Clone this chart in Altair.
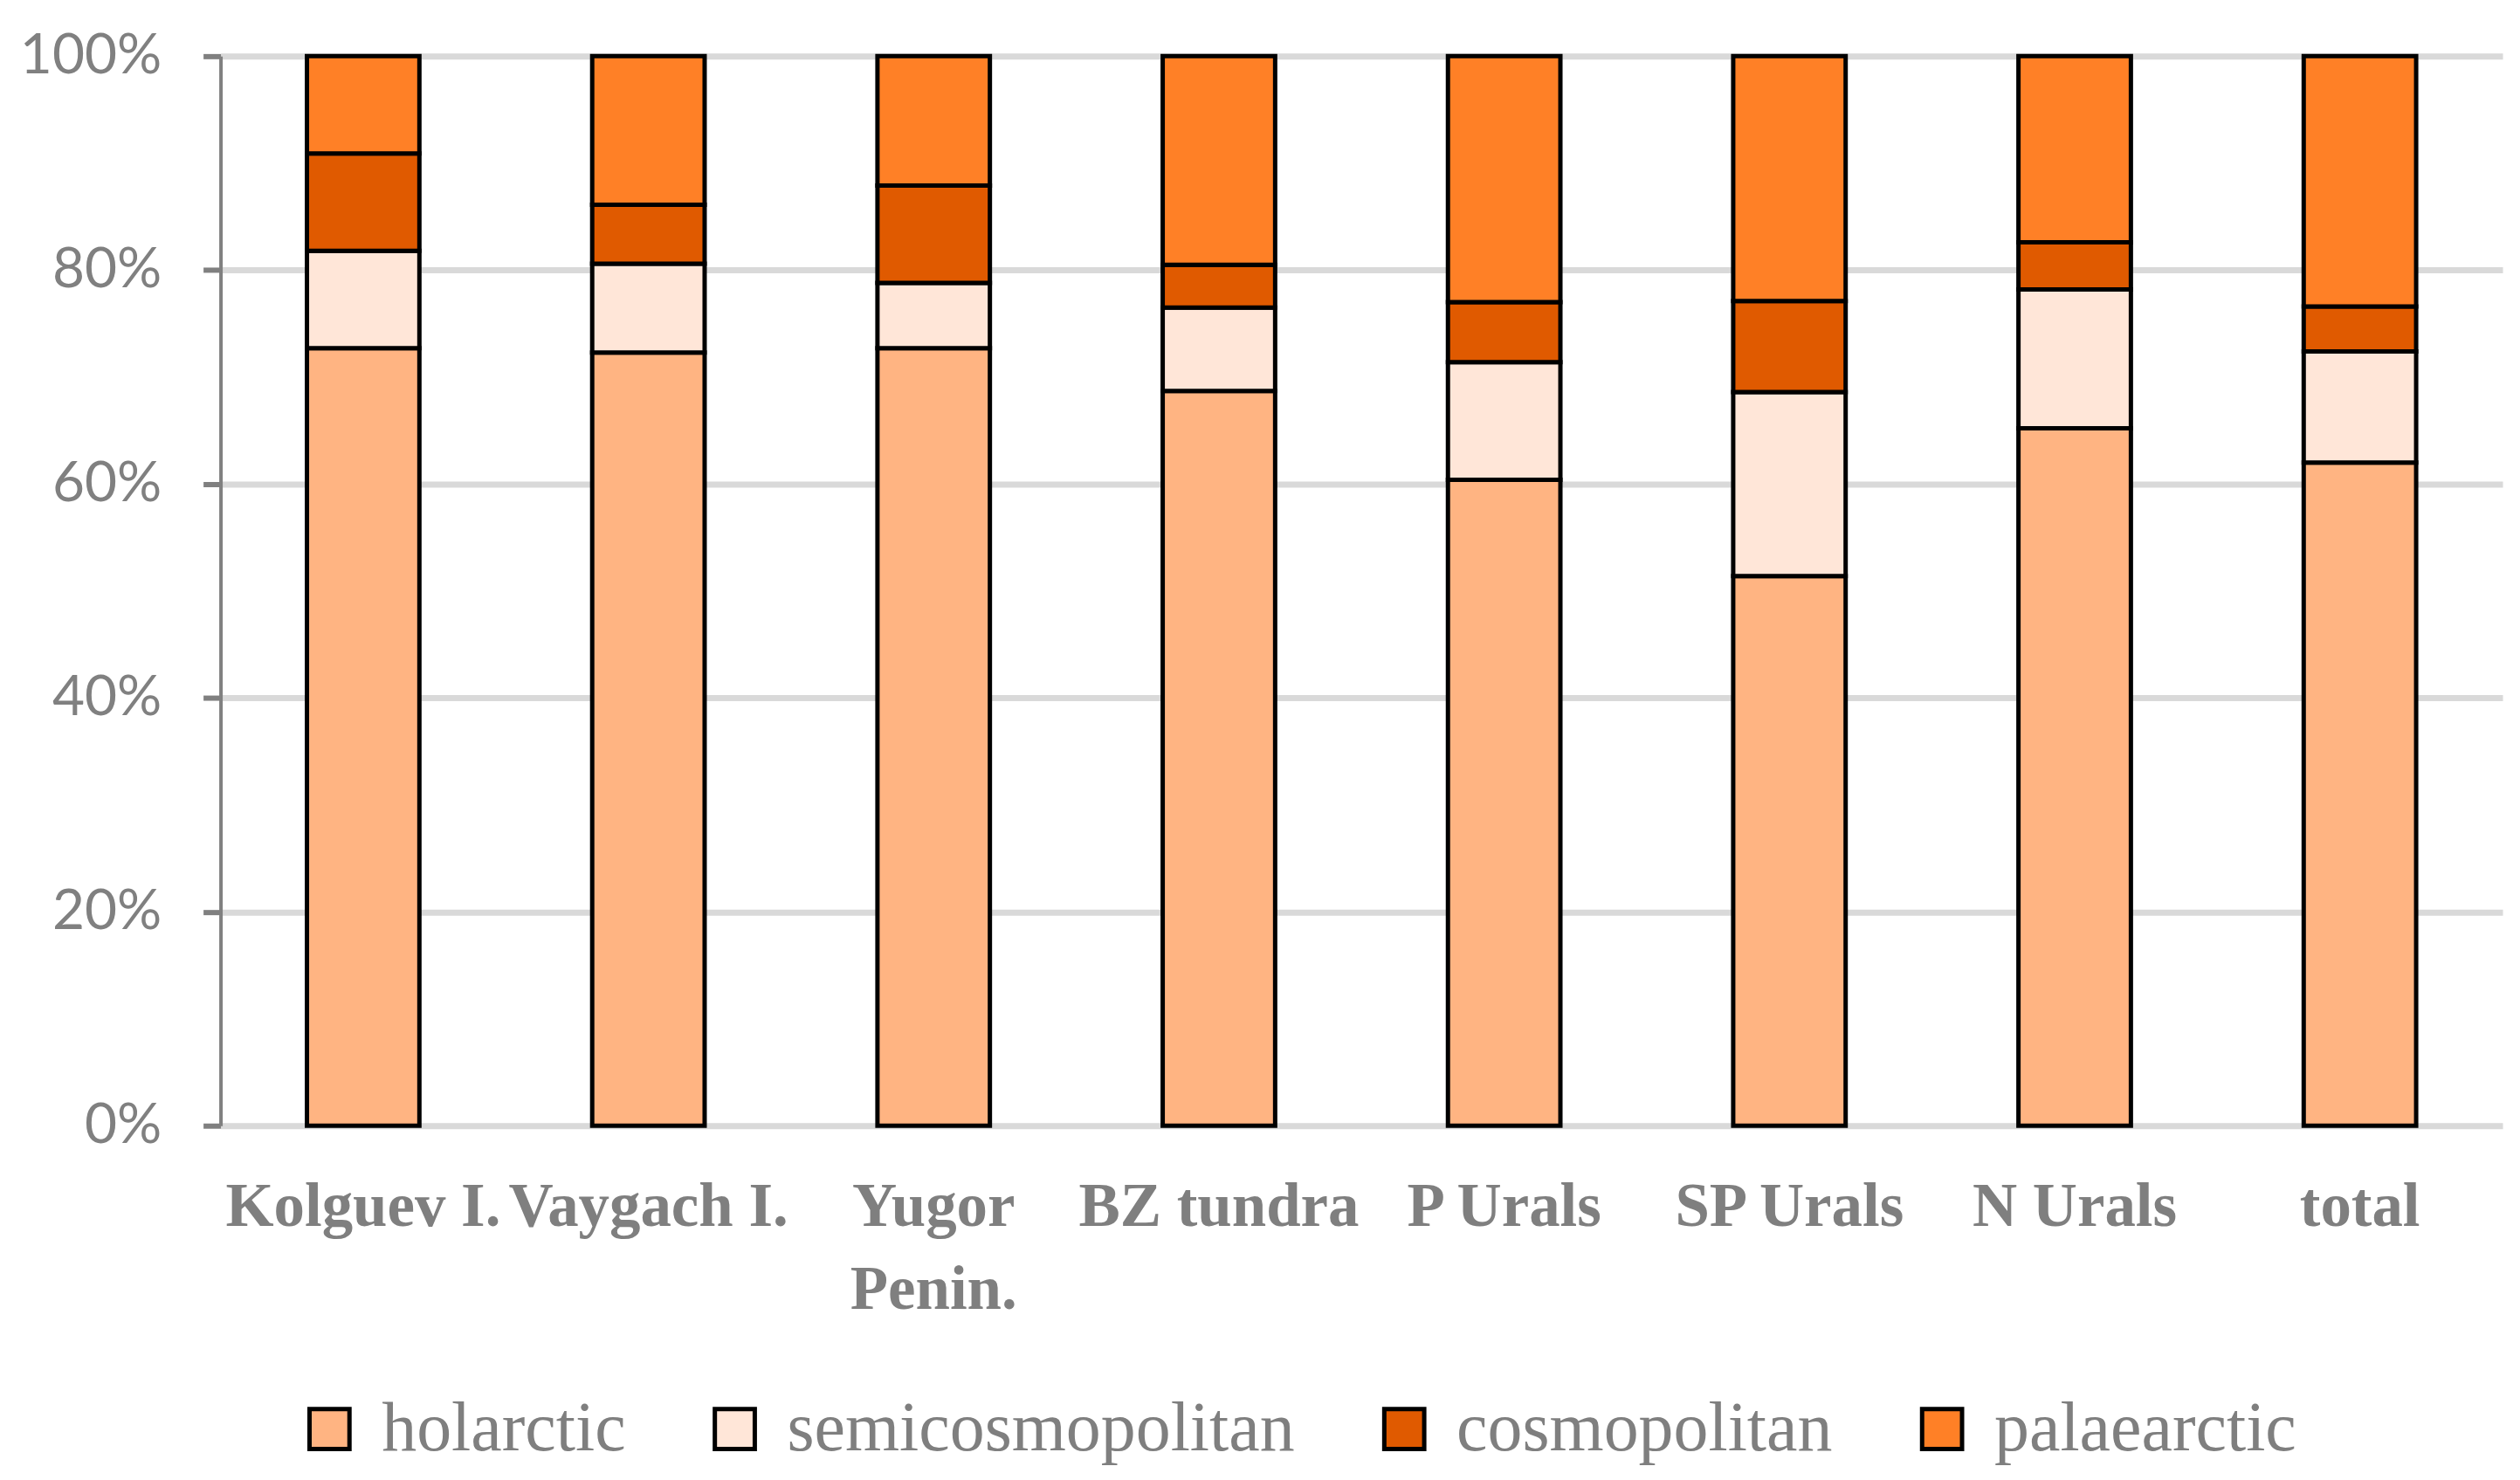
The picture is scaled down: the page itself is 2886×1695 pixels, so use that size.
import altair as alt
import pandas as pd

categories = ["Kolguev I.", "Vaygach I.", "Yugor Penin.", "BZ tundra", "P Urals", "SP Urals", "N Urals", "total"]
series = ["holarctic", "semicosmopolitan", "cosmopolitan", "palaearctic"]
holarctic = [72.7, 72.3, 72.7, 68.7, 60.4, 51.4, 65.2, 62.0]
semicosmopolitan = [9.1, 8.3, 6.1, 7.8, 11.0, 17.2, 13.0, 10.4]
cosmopolitan = [9.1, 5.5, 9.1, 4.0, 5.6, 8.5, 4.4, 4.2]
palaearctic = [9.1, 13.9, 12.1, 19.5, 23.0, 22.9, 17.4, 23.4]
colors = ["#FFB482", "#FFE6D8", "#E05A00", "#FF8026"]

values = [holarctic, semicosmopolitan, cosmopolitan, palaearctic]
rows = []
for si, (s, vals) in enumerate(zip(series, values)):
    for c, v in zip(categories, vals):
        rows.append({"region": c, "group": s, "value": v, "order": si})
df = pd.DataFrame(rows)

chart = alt.Chart(df).mark_bar(size=129, stroke="black", strokeWidth=5).encode(
    x=alt.X("region:N", sort=categories, title=None,
            axis=alt.Axis(labelAngle=0, ticks=False, domain=False,
                          labelFont="Liberation Serif", labelFontWeight="bold",
                          labelFontSize=71, labelColor="#7f7f7f", labelPadding=58,
                          labelLineHeight=96, labelLimit=1000,
                          labelExpr="datum.label == 'Yugor Penin.' ? ['Yugor', 'Penin.'] : datum.label")),
    y=alt.Y("value:Q", stack="normalize", title=None,
            scale=alt.Scale(domain=[0, 1]),
            axis=alt.Axis(format=".0%", values=[0, 0.2, 0.4, 0.6, 0.8, 1.0],
                          labelFont="Lato", labelFontSize=64, labelColor="#808080",
                          labelPadding=48, tickSize=20, tickWidth=6, tickColor="#808080",
                          domainColor="#808080", domainWidth=4,
                          grid=True, gridColor="#d9d9d9", gridWidth=7)),
    color=alt.Color("group:N", sort=series,
                    scale=alt.Scale(domain=series, range=colors),
                    legend=alt.Legend(title=None, orient="none", direction="horizontal",
                                      legendX=85, legendY=1535,
                                      symbolType="square", symbolSize=2100,
                                      symbolStrokeColor="black", symbolStrokeWidth=5,
                                      labelFont="Liberation Serif", labelFontSize=80,
                                      labelColor="#7f7f7f", labelOffset=20,
                                      columnPadding=85, labelLimit=1000)),
    order=alt.Order("order:Q", sort="ascending"),
).properties(
    width=2618, height=1227,
    padding={"left": 14, "top": 23, "right": 12, "bottom": 5},
).configure_view(stroke=None).configure_axisX(grid=False)

chart.save("out.html", embed_options={"renderer": "svg", "actions": False})
